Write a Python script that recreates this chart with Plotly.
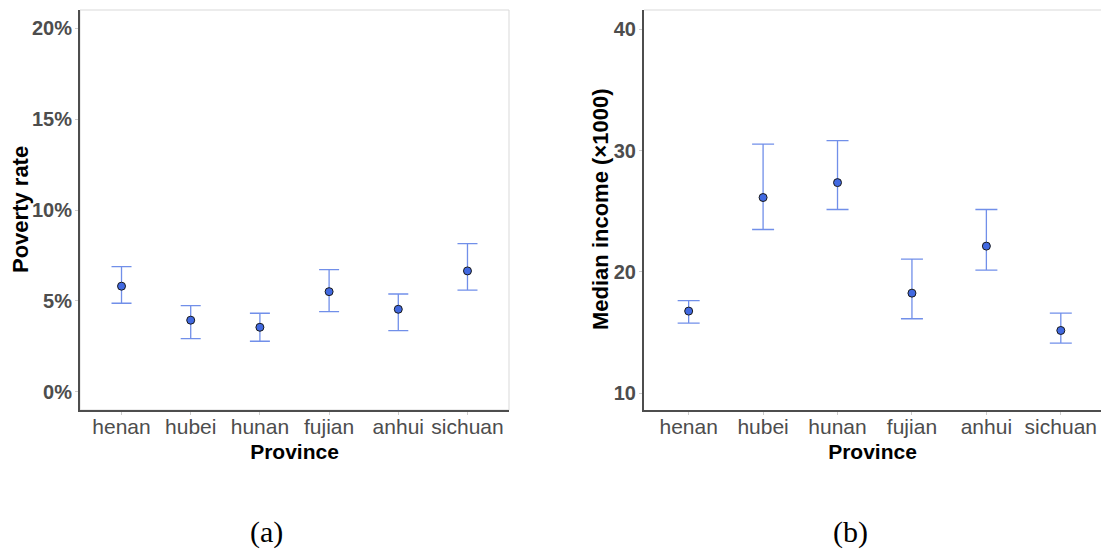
import plotly.graph_objects as go

provinces = ["henan", "hubei", "hunan", "fujian", "anhui", "sichuan"]

# Panel (a): poverty rate (%)
pov_mid = [5.81, 3.94, 3.55, 5.51, 4.54, 6.65]
pov_hi = [6.89, 4.74, 4.32, 6.72, 5.38, 8.15]
pov_lo = [4.87, 2.93, 2.78, 4.41, 3.37, 5.59]

# Panel (b): median income (x1000)
inc_mid = [16.76, 26.13, 27.36, 18.24, 22.12, 15.16]
inc_hi = [17.63, 30.53, 30.83, 21.05, 25.14, 16.60]
inc_lo = [15.77, 23.49, 25.14, 16.13, 20.14, 14.12]

pov_ticks = [0, 5, 10, 15, 20]
pov_ticktext = ["0%", "5%", "10%", "15%", "20%"]
inc_ticks = [10, 20, 30, 40]

W, H = 1101, 550


def px_x(s):
    return s / W


def px_y(s):
    return 1 - s / H


fig = go.Figure()

err_col = "rgba(65,105,225,0.75)"
mk = dict(size=8, color="#4169E1", line=dict(color="#1a1a1a", width=1))

fig.add_trace(go.Scatter(
    x=provinces, y=pov_mid, mode="markers", marker=mk,
    error_y=dict(type="data", symmetric=False,
                 array=[h - m for h, m in zip(pov_hi, pov_mid)],
                 arrayminus=[m - l for l, m in zip(pov_lo, pov_mid)],
                 color=err_col, thickness=1.3, width=10),
    xaxis="x", yaxis="y", showlegend=False))

fig.add_trace(go.Scatter(
    x=provinces, y=inc_mid, mode="markers", marker=mk,
    error_y=dict(type="data", symmetric=False,
                 array=[h - m for h, m in zip(inc_hi, inc_mid)],
                 arrayminus=[m - l for l, m in zip(inc_lo, inc_mid)],
                 color=err_col, thickness=1.3, width=11),
    xaxis="x2", yaxis="y2", showlegend=False))

ydom = [px_y(410), px_y(10)]
tickfont_y = dict(family="Liberation Sans", size=20, color="#4d4d4d", weight="bold")
tickfont_x = dict(family="Liberation Sans", size=21, color="#4d4d4d")
titlefont = dict(family="Liberation Sans", size=21, color="#000000", weight="bold")
ytitlefont = dict(family="Liberation Sans", size=22, color="#000000", weight="bold")

common_x = dict(type="category", showgrid=False, zeroline=False, showline=True,
                linecolor="#4d4d4d", linewidth=2, ticks="outside", ticklen=3,
                tickcolor="#cccccc", tickfont=tickfont_x, ticklabelstandoff=-6,
                automargin=False,
                title=dict(text="Province", font=titlefont, standoff=7))
common_y = dict(showgrid=False, zeroline=False, showline=True,
                linecolor="#4d4d4d", linewidth=2, ticks="outside", ticklen=3,
                tickcolor="#cccccc", tickfont=tickfont_y, domain=ydom,
                ticklabelstandoff=-1, automargin=False)

ymid = px_y(210)

fig.update_layout(
    width=W, height=H,
    margin=dict(l=0, r=0, t=0, b=0),
    paper_bgcolor="white", plot_bgcolor="white",
    xaxis=dict(common_x, domain=[px_x(80), px_x(509)], range=[-0.6, 5.6], anchor="y"),
    yaxis=dict(common_y, range=[-1, 21], tickvals=pov_ticks, ticktext=pov_ticktext,
               anchor="x"),
    xaxis2=dict(common_x, domain=[px_x(644), 1.0], range=[-0.6, 5.54], anchor="y2"),
    yaxis2=dict(common_y, range=[8.6, 41.6], tickvals=inc_ticks, anchor="x2"),
    shapes=[
        dict(type="rect", xref="x domain", yref="y domain", x0=0, x1=1, y0=0, y1=1,
             line=dict(color="#d9d9d9", width=1), layer="below"),
        dict(type="line", xref="x2 domain", yref="y2 domain", x0=0, x1=1, y0=1, y1=1,
             line=dict(color="#d9d9d9", width=1), layer="below"),
    ],
    annotations=[
        dict(text="Poverty rate", x=px_x(20), y=ymid, xref="paper", yref="paper",
             textangle=-90, xanchor="center", yanchor="middle", showarrow=False,
             font=ytitlefont),
        dict(text="Median income (×1000)", x=px_x(600), y=ymid, xref="paper", yref="paper",
             textangle=-90, xanchor="center", yanchor="middle", showarrow=False,
             font=ytitlefont),
        dict(text="(a)", x=px_x(266), y=px_y(532), xref="paper", yref="paper",
             xanchor="center", yanchor="middle", showarrow=False,
             font=dict(family="Liberation Serif", size=30, color="#000000")),
        dict(text="(b)", x=px_x(850), y=px_y(532), xref="paper", yref="paper",
             xanchor="center", yanchor="middle", showarrow=False,
             font=dict(family="Liberation Serif", size=30, color="#000000")),
    ],
)

fig.write_html(
    "out.html",
    config={"displayModeBar": False},
    post_script="document.body.style.margin='0';document.body.style.overflow='hidden';",
)
